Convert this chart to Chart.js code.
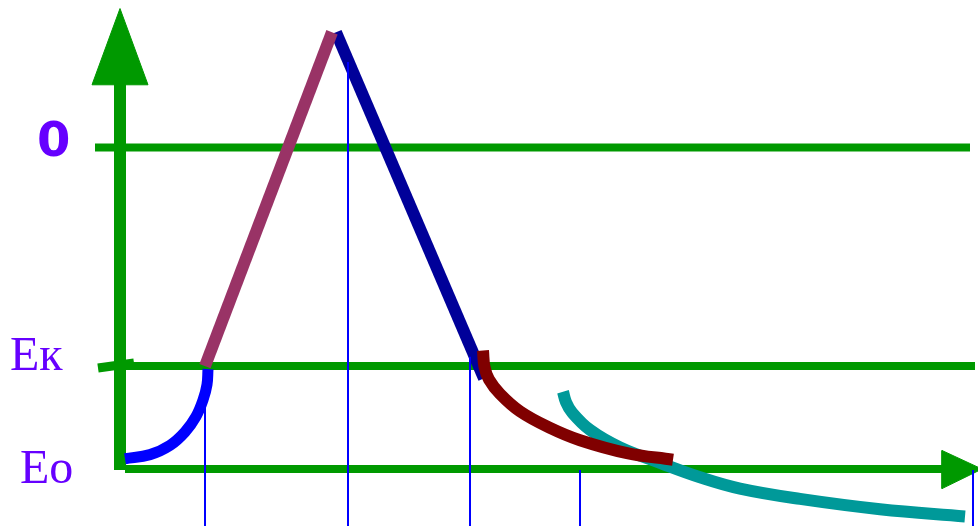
<!DOCTYPE html>
<html>
<head>
<meta charset="utf-8">
<script src="https://cdn.jsdelivr.net/npm/chart.js@4/dist/chart.umd.min.js"></script>
<style>
  body { margin: 0; background: #fff; }
  #wrap { position: relative; width: 978px; height: 526px; overflow: hidden; }
  .lbl { position: absolute; color: #6600ff; line-height: 1; white-space: nowrap; }
  .sans { font-family: "DejaVu Sans", sans-serif; font-weight: bold; font-size: 48px; }
  .serif { font-family: "Liberation Serif", "DejaVu Serif", serif; font-size: 48px; }
</style>
</head>
<body>
<div id="wrap">
  <canvas id="chart" width="978" height="526"></canvas>
  <div class="lbl sans" style="left:37px; top:115px;">0</div>
  <div class="lbl serif" style="left:10px; top:330px;">Eк</div>
  <div class="lbl serif" style="left:20px; top:443px;">Eo</div>
</div>
<script>
// potential levels (Eo = rest, Eк = threshold, 0 = zero line)
var levelNames = ['Eo', 'Eк', '0'];
var levelValues = [0, 1, 3.12];
var levelStart = [0.05, 0.0, -0.25];
var levelEnd = [8.25, 8.55, 8.5];

// local response (slow depolarisation)
var riseX = [0.05, 0.30, 0.50, 0.65, 0.76, 0.83, 0.87, 0.88];
var riseY = [0.10, 0.14, 0.23, 0.36, 0.51, 0.67, 0.82, 0.97];

// spike: depolarisation and repolarisation
var upX = [0.85, 2.12];
var upY = [1.0, 4.24];
var downX = [2.16, 3.64];
var downY = [4.24, 0.88];

// negative after-potential
var afterX = [3.63, 3.645, 3.69, 3.80, 4.00, 4.30, 4.60, 5.07, 5.53];
var afterY = [1.15, 0.99, 0.87, 0.73, 0.56, 0.40, 0.28, 0.155, 0.09];

// positive after-potential (trace)
var traceX = [4.43, 4.46, 4.52, 4.70, 5.00, 5.40, 5.80, 6.20, 6.80, 7.60, 8.45];
var traceY = [0.75, 0.65, 0.55, 0.38, 0.21, 0.06, -0.08, -0.19, -0.29, -0.39, -0.46];

// phase borders
var phaseX = [0.85, 2.28, 3.50, 4.60, 8.53];
var phaseTop = [0.96, 3.95, 1.09, -0.01, -0.01];
var bottomY = -0.56;

function pts(xs, ys) {
  var out = [];
  for (var i = 0; i < xs.length; i++) out.push({ x: xs[i], y: ys[i] });
  return out;
}

function line(data, color, width, extra) {
  var ds = {
    data: data,
    showLine: true,
    borderColor: color,
    backgroundColor: color,
    borderWidth: width,
    pointRadius: 0,
    fill: false,
    clip: false
  };
  for (var k in extra) ds[k] = extra[k];
  return ds;
}

var datasets = [];
// thin phase lines on top
for (var i = 0; i < phaseX.length; i++) {
  datasets.push(line(pts([phaseX[i], phaseX[i]], [phaseTop[i], bottomY]), '#0000ff', 2));
}
datasets.push(line(pts(riseX, riseY), '#0000ff', 11, { tension: 0.4 }));
datasets.push(line(pts(upX, upY), '#993366', 12));
datasets.push(line(pts(afterX, afterY), '#800000', 12, { tension: 0.4 }));
datasets.push(line(pts(downX, downY), '#000099', 12));
datasets.push(line(pts(traceX, traceY), '#009999', 12, { tension: 0.4 }));

// axes and level lines
var green = '#009900';
for (var j = 0; j < levelValues.length; j++) {
  datasets.push(line(pts([levelStart[j], levelEnd[j]], [levelValues[j], levelValues[j]]), green, 8));
}
datasets.push(line(pts([-0.22, 0.14], [0.98, 1.03]), green, 9));
datasets.push(line(pts([0, 0], [-0.01, 3.74]), green, 12));
// arrow heads
datasets.push(line(pts([-0.28, 0.28, 0, -0.28], [3.73, 3.73, 4.47, 3.73]), green, 1, { fill: 'shape' }));
datasets.push(line(pts([8.22, 8.22, 8.62, 8.22], [0.18, -0.19, 0.0, 0.18]), green, 1, { fill: 'shape' }));

new Chart(document.getElementById('chart'), {
  type: 'scatter',
  data: { datasets: datasets },
  options: {
    responsive: false,
    animation: false,
    layout: { padding: 0 },
    plugins: { legend: { display: false }, tooltip: { enabled: false } },
    scales: {
      x: { type: 'linear', min: -1.2, max: 8.58, display: false },
      y: { type: 'linear', min: -0.553, max: 4.553, display: false }
    }
  }
});
</script>
</body>
</html>
